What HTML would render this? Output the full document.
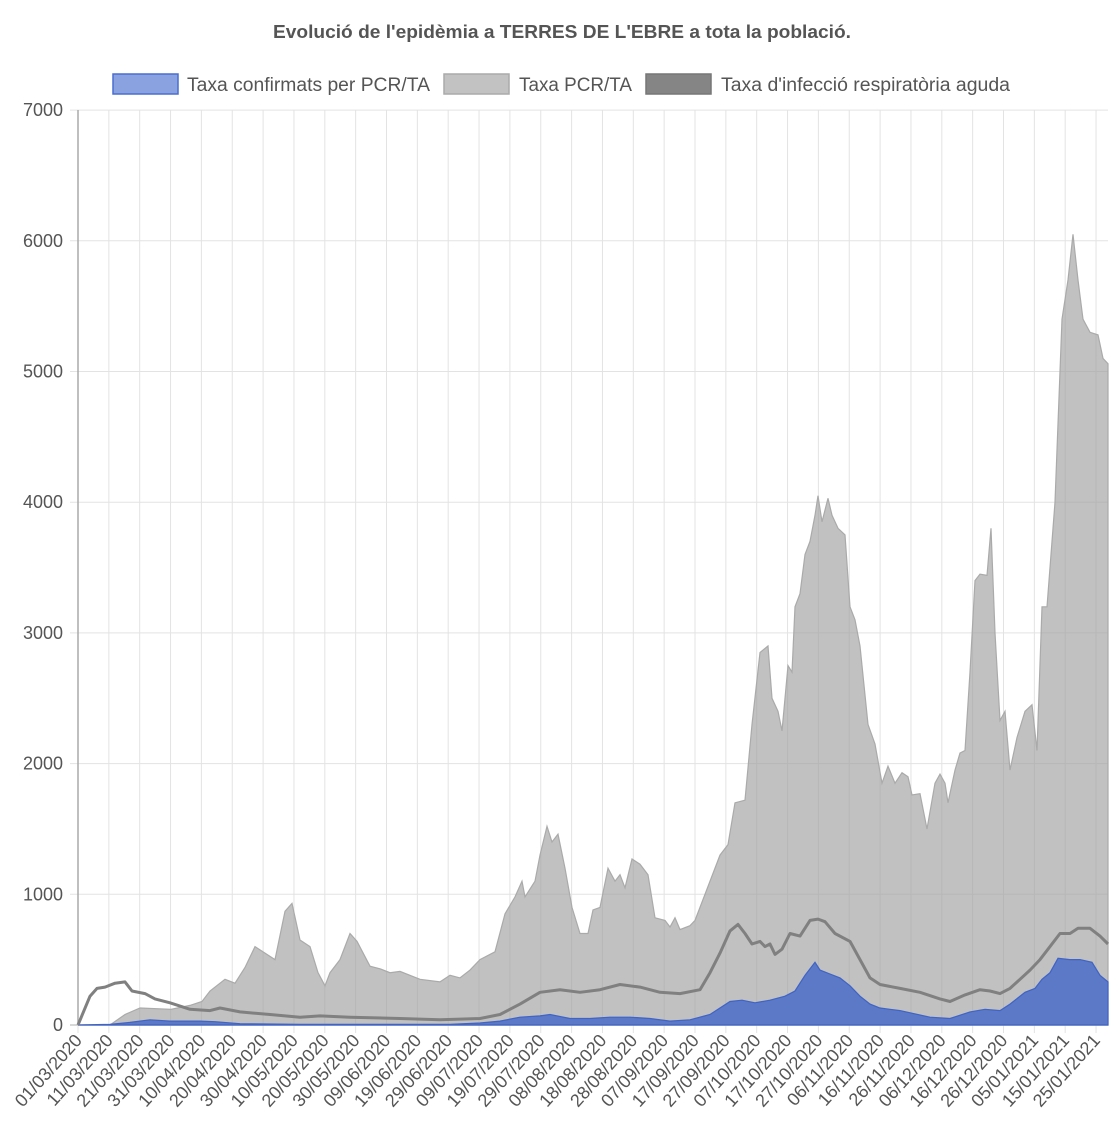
<!DOCTYPE html>
<html><head><meta charset="utf-8"><style>
body{margin:0;background:#fff;}
svg{display:block;font-family:"Liberation Sans",sans-serif;}
</style></head><body>
<svg id="s" width="1120" height="1134" xmlns="http://www.w3.org/2000/svg">
<text x="562" y="38" text-anchor="middle" font-size="18" font-weight="bold" fill="#555" textLength="578" lengthAdjust="spacingAndGlyphs">Evolució de l'epidèmia a TERRES DE L'EBRE a tota la població.</text>
<rect x="113" y="74" width="65" height="20" fill="#8aa2e0" stroke="#4a6ed0" stroke-width="1.5"/>
<text x="187" y="91" font-size="19" fill="#555" textLength="243" lengthAdjust="spacingAndGlyphs">Taxa confirmats per PCR/TA</text>
<rect x="444" y="74" width="65" height="20" fill="#c2c2c2" stroke="#aaa" stroke-width="1.5"/>
<text x="519" y="91" font-size="19" fill="#555" textLength="113" lengthAdjust="spacingAndGlyphs">Taxa PCR/TA</text>
<rect x="646" y="74" width="65" height="20" fill="#858585" stroke="#777" stroke-width="1.5"/>
<text x="721" y="91" font-size="19" fill="#555" textLength="289" lengthAdjust="spacingAndGlyphs">Taxa d'infecció respiratòria aguda</text>
<g id="grid"></g>
<g id="series"></g>
<g id="labels"></g>
</svg>
<script>
const NS="http://www.w3.org/2000/svg";
const Y=v=>1025-v*0.1307;
function el(t,a,p,txt){const e=document.createElementNS(NS,t);for(const k in a)e.setAttribute(k,a[k]);if(txt!==undefined)e.textContent=txt;p.appendChild(e);return e;}
const g=document.getElementById('grid'),L=document.getElementById('labels'),S=document.getElementById('series');
for(let i=0;i<=7;i++){const y=Y(i*1000);el('line',{x1:70,x2:1108,y1:y,y2:y,stroke:'#e3e3e3','stroke-width':1},g);
el('text',{x:63,y:y+6,'text-anchor':'end','font-size':18,fill:'#555'},L,String(i*1000));}
const start=new Date(2020,2,1);
for(let d=0;d<=330;d+=10){const x=78+d*3.085;el('line',{x1:x,x2:x,y1:110,y2:1033,stroke:'#e3e3e3','stroke-width':1},g);
const dt=new Date(start.getTime()+d*86400000+3600000*12);const s=String(dt.getDate()).padStart(2,'0')+'/'+String(dt.getMonth()+1).padStart(2,'0')+'/'+dt.getFullYear();
el('text',{x:x+5,y:1041,'text-anchor':'end','font-size':18,fill:'#555',transform:`rotate(-48 ${x+5} 1041)`},L,s);}
el('line',{x1:78,x2:78,y1:110,y2:1025,stroke:'#aaa','stroke-width':1.5},g);
el('line',{x1:70,x2:1108,y1:1025,y2:1025,stroke:'#ccc','stroke-width':1.5},g);
const gray=[78,0,110,0,125,80,140,130,171,120,190,150,202,180,210,260,225,350,235,320,245,440,255,600,265,550,275,500,285,870,292,930,300,650,310,600,318,400,325,300,330,400,340,500,350,700,357,640,370,450,380,430,390,400,400,410,420,350,440,330,450,380,460,360,470,420,480,500,495,560,505,850,515,980,522,1100,525,980,535,1100,540,1300,547,1520,552,1400,558,1460,565,1200,572,900,580,700,588,700,593,880,600,900,608,1200,615,1100,620,1150,625,1050,632,1270,640,1230,648,1150,655,820,665,800,670,750,675,820,680,730,690,760,695,800,700,900,710,1100,720,1300,728,1380,735,1700,745,1720,752,2300,760,2850,768,2900,772,2500,778,2400,782,2250,788,2750,792,2700,795,3200,800,3300,805,3600,810,3700,815,3900,818,4050,822,3850,828,4030,832,3900,838,3800,845,3750,850,3200,855,3100,860,2900,868,2300,875,2150,882,1850,888,1980,895,1850,902,1930,908,1900,912,1760,920,1770,927,1500,935,1850,940,1920,945,1850,948,1700,955,1950,960,2080,965,2100,970,2700,975,3400,980,3450,987,3440,991,3800,995,3000,1000,2330,1005,2400,1010,1950,1017,2200,1025,2400,1032,2450,1037,2100,1042,3200,1047,3200,1055,4000,1062,5400,1068,5700,1073,6050,1078,5700,1083,5400,1090,5300,1098,5280,1103,5100,1108,5060];
const ira=[78,0,90,220,97,280,105,290,115,320,125,330,132,260,145,240,155,200,170,170,190,120,210,110,220,130,240,100,270,80,300,60,320,70,350,60,400,50,440,40,480,50,500,80,520,160,540,250,560,270,580,250,600,270,620,310,640,290,660,250,680,240,700,270,710,400,720,550,730,720,738,770,745,700,752,620,760,640,765,600,770,620,775,540,782,580,790,700,800,680,810,800,818,810,825,790,835,700,850,640,860,500,870,360,880,310,900,280,920,250,940,200,950,180,965,230,980,270,990,260,1000,240,1010,280,1020,350,1030,420,1040,500,1050,600,1060,700,1070,700,1078,740,1090,740,1100,680,1108,620];
const blue=[78,0,110,5,130,20,150,40,170,30,200,30,215,25,240,10,300,5,450,5,480,15,500,30,520,60,540,70,550,80,570,50,590,50,610,60,630,60,650,50,670,30,690,40,710,80,730,180,742,190,755,170,770,190,785,220,795,260,805,380,815,480,820,420,830,390,840,360,850,300,860,220,870,160,880,130,900,110,930,60,950,50,970,100,985,120,1000,110,1010,160,1025,250,1035,280,1042,350,1050,400,1058,510,1070,500,1080,500,1092,480,1100,380,1108,330];
function pts(a){let p=[];for(let i=0;i<a.length;i+=2)p.push(a[i]+','+Y(a[i+1]).toFixed(1));return p.join(' ');}
el('polygon',{points:'78,1025 '+pts(gray)+' 1108,1025',fill:'rgba(160,160,160,0.65)',stroke:'#aaa','stroke-width':1.2},S);
el('polygon',{points:'78,1025 '+pts(blue)+' 1108,1025',fill:'#5b79c6',stroke:'#3f63c6','stroke-width':1.2},S);
el('polyline',{points:pts(ira),fill:'none',stroke:'#808080','stroke-width':3,'stroke-linejoin':'round'},S);
</script>
</body></html>
